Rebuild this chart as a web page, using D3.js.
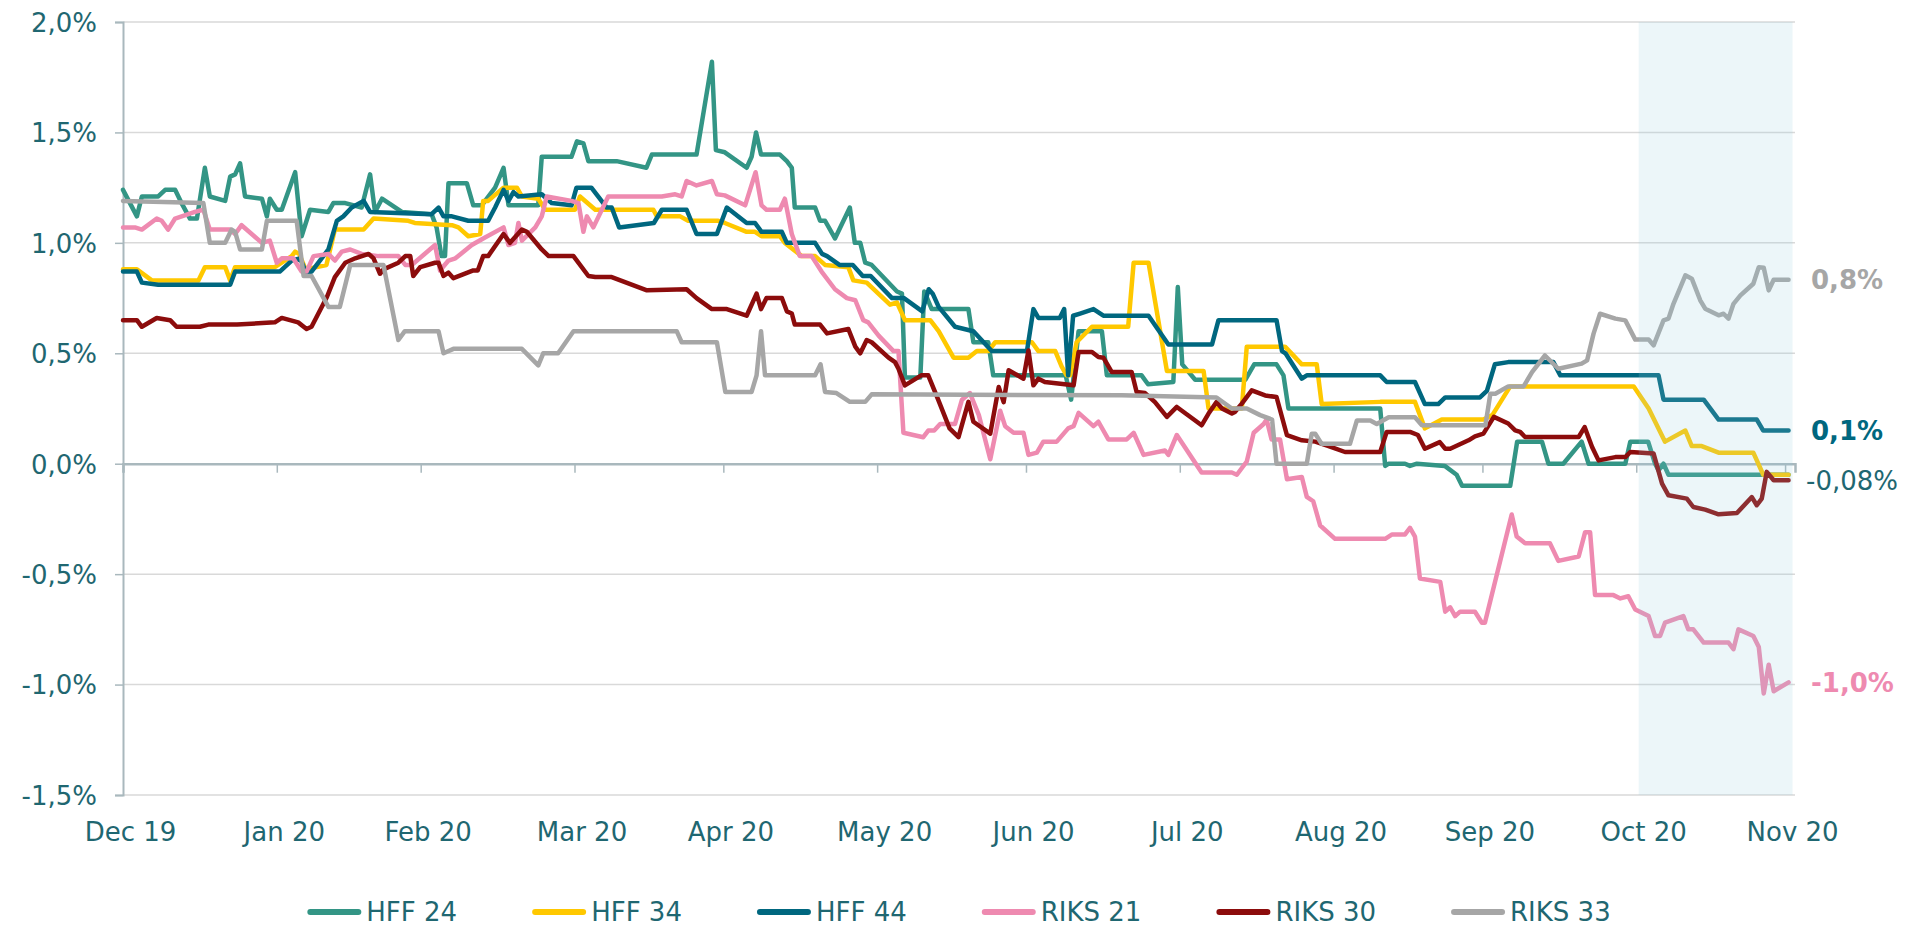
<!DOCTYPE html>
<html>
<head>
<meta charset="utf-8">
<script src="https://cdn.jsdelivr.net/npm/d3@7"></script>
<style>
  html, body { margin: 0; padding: 0; background: #fff; }
  #chart { width: 1911px; height: 929px; }
  text { font-family: "DejaVu Sans", Verdana, sans-serif; }
</style>
</head>
<body>
<div id="chart"></div>
<script>
// days counted from 31 Dec 2019, values in %
var seriesNames = ["HFF 24", "HFF 34", "HFF 44", "RIKS 21", "RIKS 30", "RIKS 33"];
var seriesColors = ["#339585", "#ffc800", "#00677f", "#ee8ab0", "#8c0c0c", "#a6a6a6"];

var hff24 = [[0,1.24],[2.8,1.12],[3.8,1.21],[7.1,1.21],[8.5,1.24],[10.5,1.24],[11.8,1.18],[13.5,1.11],[14.9,1.11],[16.5,1.34],[17.5,1.21],[20.6,1.19],[21.6,1.30],[22.6,1.31],[23.6,1.36],[24.6,1.21],[28,1.20],[29,1.12],[29.6,1.20],[31,1.15],[32,1.15],[34.7,1.32],[36,1.03],[37.7,1.15],[41.4,1.14],[42.4,1.18],[44.8,1.18],[48.1,1.16],[49.8,1.31],[50.8,1.14],[52.2,1.20],[56.2,1.14],[62.2,1.13],[63.2,1.07],[64.2,0.94],[64.9,0.94],[65.6,1.27],[69.3,1.27],[70.6,1.17],[72.3,1.17],[75,1.25],[76.7,1.34],[77.7,1.17],[83.7,1.17],[84.4,1.39],[90.4,1.39],[91.5,1.46],[92.8,1.45],[93.8,1.37],[99.5,1.37],[105.5,1.34],[106.6,1.40],[115.6,1.40],[118.7,1.82],[119.5,1.42],[121.3,1.41],[125.7,1.34],[126.7,1.39],[127.6,1.50],[128.6,1.40],[132.4,1.40],[133.8,1.37],[134.8,1.34],[135.4,1.16],[139.5,1.16],[140.5,1.10],[141.5,1.10],[143.5,1.02],[146.5,1.16],[147.5,1.00],[148.6,1.00],[149.6,0.91],[150.9,0.90],[156,0.78],[157,0.77],[157.6,0.39],[160.7,0.39],[161.5,0.78],[163,0.70],[170.4,0.70],[171.4,0.55],[174.4,0.55],[175.4,0.40],[190,0.40],[191.1,0.29],[192.6,0.60],[197.3,0.60],[198.3,0.40],[205.3,0.40],[206.6,0.36],[211.7,0.37],[212.6,0.80],[213.5,0.45],[216.1,0.38],[226.2,0.38],[228,0.45],[232.5,0.45],[233.9,0.40],[234.9,0.25],[253.4,0.25],[254.4,-0.01],[255.1,0],[258.4,0],[259.4,-0.01],[260.8,0],[266.4,-0.01],[268.8,-0.05],[269.9,-0.10],[279.6,-0.10],[281,0.10],[286,0.10],[287.3,0],[290.3,0],[294,0.10],[295.4,0],[302.8,0],[303.8,0.10],[307.4,0.10],[308.8,0],[309.5,-0.03],[310.5,0],[311.5,-0.05],[335.7,-0.05]];

var hff34 = [[0,0.88],[2.8,0.88],[5.8,0.83],[15.2,0.83],[16.5,0.89],[20.6,0.89],[21.6,0.83],[22.6,0.89],[30.6,0.89],[34,0.94],[34.7,0.96],[35.5,0.95],[36.8,0.88],[41,0.90],[42.7,1.06],[48.5,1.06],[50.5,1.11],[57.5,1.10],[58.8,1.09],[66.3,1.08],[67.6,1.07],[69.6,1.03],[72,1.04],[72.6,1.19],[73.6,1.19],[76.7,1.25],[79.4,1.25],[80.4,1.21],[83.7,1.20],[85.1,1.15],[91.1,1.15],[92.1,1.21],[95.2,1.15],[106.9,1.15],[107.6,1.12],[112.3,1.12],[113.9,1.10],[120,1.10],[121.3,1.09],[125.7,1.05],[127.4,1.05],[128.7,1.03],[132.4,1.03],[133.4,1.00],[136.8,0.94],[139.5,0.94],[141.5,0.90],[146.2,0.89],[147.2,0.83],[149.9,0.82],[154.6,0.72],[156,0.73],[157.6,0.65],[162.7,0.65],[164.4,0.60],[167.4,0.48],[170.4,0.48],[172.1,0.51],[174.4,0.51],[175.8,0.55],[183.2,0.55],[184.5,0.51],[187.9,0.51],[189.2,0.44],[190.2,0.40],[190.9,0.40],[192.2,0.55],[195.3,0.62],[202.6,0.62],[203.7,0.91],[206.7,0.91],[210.4,0.42],[217.8,0.42],[218.8,0.25],[225.5,0.25],[226.5,0.53],[234.2,0.53],[237.6,0.45],[240.6,0.45],[241.6,0.27],[253.4,0.28],[260.4,0.28],[262.4,0.16],[265.8,0.20],[274.2,0.20],[276,0.22],[279.6,0.35],[304.5,0.35],[307.5,0.25],[310.8,0.10],[314.9,0.15],[316.2,0.08],[318.2,0.08],[321.6,0.05],[328.6,0.05],[330.6,-0.05],[335.7,-0.05]];

var hff44 = [[0,0.87],[2.8,0.87],[3.8,0.82],[7.1,0.81],[21.6,0.81],[22.6,0.87],[31.6,0.87],[34,0.92],[35.7,0.93],[37,0.86],[38,0.87],[41.4,0.97],[43.1,1.10],[44.4,1.12],[46.1,1.16],[48.5,1.19],[49.8,1.14],[62.2,1.13],[63.6,1.16],[64.6,1.12],[66.3,1.12],[69.6,1.10],[73.6,1.10],[75,1.16],[76.7,1.24],[77.7,1.19],[78.7,1.23],[79.7,1.21],[84.4,1.22],[86.4,1.18],[90.4,1.17],[91.4,1.25],[94.4,1.25],[97.5,1.16],[98.5,1.16],[100,1.07],[107,1.09],[108.6,1.15],[113.6,1.15],[115.6,1.04],[119.7,1.04],[121.7,1.16],[125.7,1.09],[127.4,1.09],[128.7,1.05],[132.8,1.05],[133.8,1.00],[139.5,1.00],[140.9,0.95],[141.9,0.94],[144.4,0.90],[147.1,0.90],[149.1,0.85],[150.7,0.85],[155,0.75],[157.4,0.75],[161.1,0.69],[162.4,0.79],[163.2,0.77],[164.4,0.71],[167.7,0.62],[171.4,0.60],[175.1,0.51],[182.2,0.51],[183.5,0.70],[184.5,0.66],[188.8,0.66],[189.7,0.70],[190.5,0.40],[191.5,0.67],[192.9,0.68],[195.6,0.70],[197.6,0.67],[206.7,0.67],[210.7,0.54],[219.5,0.54],[220.8,0.65],[232.5,0.65],[233.6,0.51],[234.3,0.50],[237.6,0.385],[238.6,0.40],[253.4,0.40],[254.7,0.37],[260.4,0.37],[262.4,0.27],[265.1,0.27],[266.5,0.30],[273.5,0.30],[274.9,0.33],[276.5,0.45],[279.2,0.46],[288.3,0.46],[289.7,0.40],[309.5,0.40],[310.5,0.29],[318.6,0.29],[321.6,0.20],[329.3,0.20],[330.6,0.15],[335.7,0.15]];

var riks21 = [[0,1.07],[2.4,1.07],[3.8,1.06],[6.8,1.11],[7.8,1.10],[9.1,1.06],[10.5,1.11],[14.5,1.14],[16.2,1.15],[17.5,1.06],[21.6,1.06],[22.6,1.04],[23.9,1.08],[28,1.00],[29.6,1.01],[31,0.91],[32,0.93],[34.3,0.93],[36,0.87],[37,0.87],[38.4,0.94],[41.4,0.95],[42.7,0.92],[44.1,0.96],[45.8,0.97],[48.1,0.95],[51.5,0.94],[55.5,0.94],[56.9,0.90],[58.2,0.90],[62.9,0.99],[63.9,0.875],[65.6,0.92],[67,0.93],[70.3,0.99],[72.6,1.02],[76.7,1.07],[77.7,0.99],[79,1.00],[79.7,1.09],[80.4,1.01],[83.1,1.07],[84.4,1.12],[85.4,1.21],[90.4,1.19],[91.8,1.18],[92.8,1.05],[93.5,1.12],[94.8,1.07],[97.8,1.21],[108.6,1.21],[111.3,1.22],[112.6,1.21],[113.6,1.28],[115.6,1.26],[118.7,1.28],[119.7,1.22],[121.3,1.215],[125.4,1.17],[127.5,1.32],[128.7,1.17],[129.7,1.15],[132.4,1.15],[133.4,1.20],[134.8,1.04],[136.4,0.94],[138.8,0.94],[140.8,0.87],[143.5,0.79],[145.9,0.75],[147.6,0.74],[149.2,0.65],[150.2,0.64],[152.3,0.58],[155.3,0.51],[156.3,0.51],[157.3,0.14],[161.3,0.12],[162.3,0.15],[163.5,0.15],[164.7,0.18],[167.7,0.18],[169.1,0.29],[170.7,0.32],[172.5,0.22],[174.8,0.02],[176.8,0.24],[177.8,0.17],[179.5,0.14],[181.5,0.14],[182.5,0.04],[184.2,0.05],[185.5,0.10],[188.2,0.10],[190.5,0.16],[191.6,0.17],[192.6,0.23],[195.6,0.17],[196.6,0.19],[198.6,0.11],[202.3,0.11],[203.7,0.14],[205.7,0.04],[210,0.06],[210.7,0.04],[212.4,0.13],[217.4,-0.04],[223.5,-0.04],[224.5,-0.05],[226.5,0.01],[227.9,0.14],[229.9,0.18],[230.5,0.20],[231.5,0.11],[233.2,0.11],[234.6,-0.07],[237.6,-0.06],[238.6,-0.15],[239.9,-0.17],[241.3,-0.28],[244.3,-0.34],[254.4,-0.34],[255.8,-0.32],[258.4,-0.32],[259.4,-0.29],[260.4,-0.33],[261.4,-0.52],[265.5,-0.535],[266.5,-0.67],[267.5,-0.65],[268.5,-0.69],[269.5,-0.67],[272.5,-0.67],[273.9,-0.72],[274.5,-0.72],[279.9,-0.23],[280.9,-0.33],[282.6,-0.36],[287.6,-0.36],[289.3,-0.44],[293.4,-0.42],[294.7,-0.31],[295.7,-0.31],[296.7,-0.595],[300.4,-0.595],[301.8,-0.61],[303.4,-0.60],[304.8,-0.66],[307.5,-0.69],[308.8,-0.78],[309.8,-0.78],[310.8,-0.72],[314.5,-0.69],[315.5,-0.75],[316.5,-0.75],[318.6,-0.81],[323.6,-0.81],[324.6,-0.84],[325.6,-0.75],[328.6,-0.78],[329.7,-0.83],[330.7,-1.04],[331.7,-0.91],[332.7,-1.03],[335.7,-0.99]];

var riks30 = [[0,0.65],[2.8,0.65],[3.8,0.62],[6.8,0.66],[9.5,0.65],[10.8,0.62],[15.5,0.62],[17.2,0.63],[23,0.63],[30.6,0.64],[32,0.66],[35.3,0.64],[37,0.61],[38,0.62],[41.1,0.755],[42.7,0.845],[44.8,0.91],[46.8,0.93],[49.5,0.95],[50.5,0.93],[51.8,0.86],[52.5,0.88],[55.5,0.91],[56.9,0.94],[57.9,0.94],[58.5,0.85],[59.9,0.89],[62.9,0.91],[63.6,0.91],[64.6,0.85],[65.6,0.865],[66.6,0.84],[70.6,0.875],[71.5,0.875],[72.6,0.94],[73.6,0.94],[76.7,1.04],[78,1.00],[80.4,1.06],[81.4,1.05],[84.4,0.97],[85.8,0.94],[90.8,0.94],[93.8,0.85],[95.2,0.845],[98.5,0.845],[105.6,0.785],[113.6,0.79],[115.6,0.75],[118.7,0.70],[121.7,0.70],[125.7,0.67],[127.7,0.77],[128.6,0.70],[129.7,0.75],[132.8,0.75],[133.8,0.69],[134.8,0.68],[135.4,0.63],[140.5,0.63],[141.9,0.59],[146.2,0.61],[147.6,0.53],[148.6,0.50],[149.9,0.56],[150.9,0.55],[154.3,0.48],[155.6,0.46],[156.3,0.43],[157.6,0.355],[160.9,0.40],[162.3,0.40],[164.3,0.29],[166.6,0.16],[168.4,0.12],[170.4,0.28],[171.4,0.19],[174.8,0.136],[176.5,0.347],[177.5,0.279],[178.5,0.423],[181.5,0.385],[182.5,0.513],[183.5,0.355],[184.5,0.385],[185.8,0.37],[191.6,0.355],[192.6,0.506],[195.3,0.506],[196.6,0.483],[197.6,0.48],[199.3,0.415],[203.3,0.415],[204.3,0.325],[206,0.32],[208,0.279],[210.4,0.212],[212.4,0.257],[217.4,0.174],[218.8,0.227],[220.4,0.279],[221.5,0.25],[223.5,0.227],[224.1,0.234],[225.5,0.272],[227.5,0.332],[230.2,0.309],[232.5,0.302],[234.6,0.129],[237.6,0.106],[240.3,0.10],[243,0.08],[246.3,0.053],[253.4,0.053],[254.7,0.144],[259.4,0.144],[261,0.13],[262.4,0.068],[265.4,0.098],[266.5,0.068],[267.5,0.068],[271.2,0.106],[272.5,0.124],[274.2,0.136],[276.3,0.212],[279.2,0.182],[280.6,0.151],[281.6,0.144],[282.6,0.121],[293.4,0.121],[294.6,0.166],[296.1,0.076],[297.4,0.015],[300.8,0.03],[302.8,0.03],[303.8,0.053],[308.5,0.046],[310.2,-0.09],[311.5,-0.143],[315.2,-0.158],[316.5,-0.196],[318.9,-0.208],[321.6,-0.229],[325.3,-0.223],[328.3,-0.151],[329.3,-0.188],[330.3,-0.158],[331.3,-0.037],[332.7,-0.075],[335.7,-0.075]];

var riks33 = [[0,1.19],[16.2,1.18],[17.5,1.00],[20.6,1.00],[21.9,1.06],[22.6,1.05],[23.6,0.97],[28,0.97],[29,1.10],[35,1.10],[36.4,0.85],[38,0.85],[41.4,0.71],[43.7,0.71],[45.8,0.90],[52.5,0.90],[55.5,0.56],[56.8,0.60],[63.6,0.60],[64.6,0.50],[66.6,0.52],[80.4,0.52],[83.7,0.445],[84.7,0.50],[87.7,0.50],[90.8,0.60],[111.6,0.60],[112.6,0.55],[119.7,0.55],[121.4,0.325],[126.7,0.325],[127.7,0.40],[128.6,0.60],[129.4,0.40],[139.5,0.40],[140.6,0.45],[141.5,0.325],[143.8,0.32],[146.5,0.28],[149.6,0.28],[150.9,0.314],[201.3,0.31],[220.4,0.30],[223.5,0.25],[226.5,0.25],[229.2,0.22],[231.6,0.20],[232.5,0],[238.6,0],[239.6,0.136],[240.3,0.136],[241.6,0.09],[247.3,0.09],[248.7,0.196],[251.4,0.196],[252.7,0.18],[255.1,0.21],[260.4,0.21],[261.8,0.174],[274.6,0.174],[275.6,0.317],[276.6,0.317],[279.2,0.35],[282.3,0.35],[284,0.415],[286.6,0.49],[289.3,0.43],[294,0.453],[295.1,0.468],[296.4,0.589],[297.7,0.679],[300.8,0.657],[302.8,0.649],[304.8,0.562],[307.5,0.562],[308.5,0.536],[310.5,0.649],[311.5,0.657],[312.5,0.724],[314.9,0.853],[316.2,0.838],[317.9,0.74],[318.9,0.702],[321.6,0.672],[322.6,0.679],[323.6,0.657],[324.6,0.724],[326,0.762],[328.6,0.815],[329.7,0.89],[330.7,0.887],[331.7,0.785],[332.7,0.833],[335.7,0.833]];

var yTicks = [-1.5, -1.0, -0.5, 0, 0.5, 1.0, 1.5, 2.0];
// end labels: text, series index, bold
var endLabels = [["0,8%", 5, true], ["0,1%", 2, true], ["-0,08%", 4, false], ["-1,0%", 3, true]];

(function () {
  var allSeries = [hff24, hff34, hff44, riks21, riks30, riks33];
  var textColor = "#1f6771";
  var day0 = Date.UTC(2019, 11, 31);
  function toDate(d) { return new Date(day0 + d * 864e5); }

  var width = 1911, height = 929;
  var pLeft = 123, pRight = 1795, pTop = 22, pBottom = 795;

  var svg = d3.select("#chart").append("svg")
    .attr("width", width)
    .attr("height", height);

  var x = d3.scaleUtc()
    .domain([new Date(day0), new Date(Date.UTC(2020, 11, 2))])
    .range([pLeft, pRight]);
  var y = d3.scaleLinear()
    .domain([-1.5, 2.0])
    .range([pBottom, pTop]);

  var loc = d3.formatLocale({decimal: ",", thousands: ".", grouping: [3], currency: ["", ""], minus: "-"});
  var fmt = loc.format(".1f");

  // month-end ticks
  var monthTicks = d3.utcMonth.range(new Date(Date.UTC(2020, 0, 1)), new Date(Date.UTC(2020, 11, 2)))
    .map(d => d3.utcDay.offset(d, -1));

  // gridlines
  svg.append("g").selectAll("line")
    .data(yTicks.filter(d => d !== 0))
    .enter().append("line")
    .attr("x1", pLeft).attr("x2", pRight)
    .attr("y1", d => y(d)).attr("y2", d => y(d))
    .attr("stroke", "#d9d9d9")
    .attr("stroke-width", 1.5);

  // y axis
  var yAxis = svg.append("g")
    .attr("transform", "translate(" + pLeft + ",0)")
    .call(d3.axisLeft(y).tickValues(yTicks).tickSize(8).tickPadding(18).tickFormat(d => fmt(d) + "%"));
  yAxis.select(".domain").attr("stroke", "#a9b8bd").attr("stroke-width", 2);
  yAxis.selectAll(".tick line").attr("stroke", "#a9b8bd").attr("stroke-width", 1.5);
  yAxis.selectAll("text")
    .attr("fill", textColor)
    .style("font-size", "26px")
    .attr("dy", "0.36em");

  // x axis at zero
  var xAxis = svg.append("g")
    .attr("transform", "translate(0," + y(0) + ")")
    .call(d3.axisBottom(x).tickValues(monthTicks).tickSize(9).tickPadding(0).tickFormat(d3.utcFormat("%b %y")));
  xAxis.select(".domain").attr("stroke", "#a9b8bd").attr("stroke-width", 2.5);
  xAxis.selectAll(".tick line").attr("stroke", "#a9b8bd").attr("stroke-width", 1.5);
  xAxis.selectAll("text")
    .attr("fill", textColor)
    .style("font-size", "26px")
    .attr("x", 7)
    .attr("dy", 0)
    .attr("y", 841 - y(0));
  svg.selectAll(".tick text").attr("font-family", null);

  // series
  var line = d3.line()
    .x(d => x(toDate(d[0])))
    .y(d => y(d[1]));

  svg.append("g").selectAll("path")
    .data(allSeries)
    .enter().append("path")
    .attr("d", d => line(d))
    .attr("fill", "none")
    .attr("stroke", (d, i) => seriesColors[i])
    .attr("stroke-width", 4.5)
    .attr("stroke-linejoin", "round")
    .attr("stroke-linecap", "round");

  // shaded last month
  var s0 = x(new Date(Date.UTC(2020, 9, 31, 12))), s1 = x(new Date(Date.UTC(2020, 11, 1, 12)));
  svg.append("rect")
    .attr("x", s0)
    .attr("y", pTop)
    .attr("width", s1 - s0)
    .attr("height", pBottom - pTop)
    .attr("fill", "rgb(150,205,222)")
    .attr("fill-opacity", 0.18);

  // end labels
  svg.append("g").selectAll("text")
    .data(endLabels)
    .enter().append("text")
    .attr("x", d => d[2] ? 1811 : 1806)
    .attr("y", d => { var s = allSeries[d[1]]; return y(s[s.length - 1][1]); })
    .attr("dy", "0.36em")
    .attr("fill", d => d[2] ? seriesColors[d[1]] : textColor)
    .attr("font-weight", d => d[2] ? "bold" : "normal")
    .style("font-size", "26px")
    .text(d => d[0]);

  // legend
  var legend = svg.append("g");
  var items = legend.selectAll("g")
    .data(seriesNames)
    .enter().append("g");
  items.append("line")
    .attr("x1", 3).attr("x2", 51)
    .attr("y1", 0).attr("y2", 0)
    .attr("stroke", (d, i) => seriesColors[i])
    .attr("stroke-width", 6)
    .attr("stroke-linecap", "round");
  items.append("text")
    .attr("x", 59)
    .attr("dy", "0.36em")
    .attr("fill", textColor)
    .style("font-size", "26px")
    .text(d => d);

  var offs = [], pos = 0;
  items.each(function () {
    offs.push(pos);
    pos += 59 + this.querySelector("text").getComputedTextLength() + 75;
  });
  var total = pos - 75;
  var lx = (pLeft + pRight) / 2 - total / 2;
  items.attr("transform", (d, i) => "translate(" + (lx + offs[i]) + ",912)");
})();
</script>
</body>
</html>
